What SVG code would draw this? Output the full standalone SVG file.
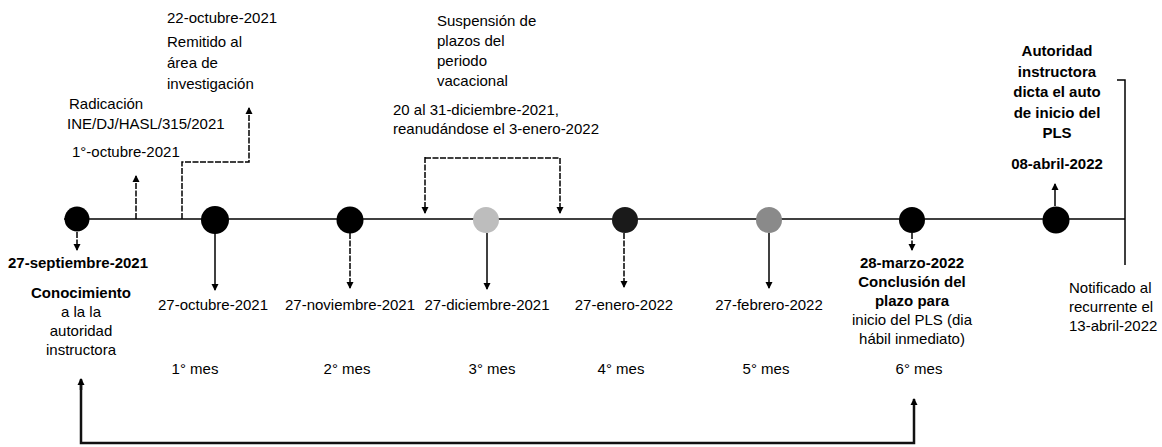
<svg xmlns="http://www.w3.org/2000/svg" width="1162" height="447" viewBox="0 0 1162 447">
<style>
text{font-family:"Liberation Sans",Arial,sans-serif;font-size:15px;fill:#000}
.b{font-weight:bold}
.c{text-anchor:middle}
.ln{stroke:#000;stroke-width:1.5;fill:none}
.ds{stroke-dasharray:6 1.5}
.th{stroke:#111;stroke-width:2.5;fill:none}
</style>
<defs>
<marker id="ah" markerWidth="8" markerHeight="8" refX="6" refY="4" orient="auto" markerUnits="userSpaceOnUse">
<path d="M0,0.5 L7,4 L0,7.5 Z" fill="#000"/>
</marker>
</defs>
<g id="connectors">
<line class="ln" x1="64" y1="219" x2="1125" y2="219"/>
<line class="ln ds" x1="77" y1="232" x2="77" y2="250" marker-end="url(#ah)"/>
<line class="ln" x1="215" y1="233" x2="215" y2="290" marker-end="url(#ah)"/>
<line class="ln ds" x1="350" y1="233" x2="350" y2="288" marker-end="url(#ah)"/>
<line class="ln" x1="487" y1="233" x2="487" y2="289" marker-end="url(#ah)"/>
<line class="ln ds" x1="624" y1="233" x2="624" y2="287" marker-end="url(#ah)"/>
<line class="ln" x1="769" y1="233" x2="769" y2="288" marker-end="url(#ah)"/>
<line class="ln ds" x1="912" y1="233" x2="912" y2="250" marker-end="url(#ah)"/>
<line class="ln ds" x1="136" y1="219" x2="136" y2="176" marker-end="url(#ah)"/>
<polyline class="ln ds" points="182,219 182,162 249,162 249,108" marker-end="url(#ah)"/>
<polyline class="ln ds" points="425,158 560,158 560,213" marker-end="url(#ah)"/>
<line class="ln ds" x1="425" y1="157" x2="425" y2="213" marker-end="url(#ah)"/>
<line class="ln" x1="1055" y1="206" x2="1055" y2="184" marker-end="url(#ah)"/>
<polyline class="ln" points="1117,80 1125,80 1125,265"/>
<polyline class="th" points="81,380 81,443 914,443 914,399" marker-end="url(#ah)"/>
<line class="th" x1="81" y1="390" x2="81" y2="379" marker-end="url(#ah)"/>
</g>
<g id="n1"><circle cx="77" cy="219" r="12.5" fill="#000"/>
<text class="b c" x="78" y="268">27-septiembre-2021</text>
<text class="c" x="81" y="298"><tspan class="b">Conocimiento</tspan><tspan x="81" dy="19">a la la</tspan><tspan x="81" dy="19">autoridad</tspan><tspan x="81" dy="19">instructora</tspan></text>
</g>
<g id="n2"><circle cx="215" cy="220" r="14" fill="#000"/>
<text class="c" x="213" y="310">27-octubre-2021</text>
<text class="c" x="195" y="374">1° mes</text>
</g>
<g id="n3"><circle cx="350" cy="220" r="13.5" fill="#000"/>
<text class="c" x="350" y="310">27-noviembre-2021</text>
<text class="c" x="347" y="374">2° mes</text>
</g>
<g id="n4"><circle cx="486" cy="220" r="13" fill="#bdbdbd"/>
<text class="c" x="487" y="310">27-diciembre-2021</text>
<text class="c" x="492" y="374">3° mes</text>
</g>
<g id="n5"><circle cx="625" cy="220" r="13" fill="#1a1a1a"/>
<text class="c" x="624" y="310">27-enero-2022</text>
<text class="c" x="621" y="374">4° mes</text>
</g>
<g id="n6"><circle cx="769" cy="220" r="13" fill="#8a8a8a"/>
<text class="c" x="769" y="310">27-febrero-2022</text>
<text class="c" x="766" y="374">5° mes</text>
</g>
<g id="n7"><circle cx="912" cy="220" r="13" fill="#000"/>
<text class="b c" x="912" y="268">28-marzo-2022</text>
<text class="b c" x="912" y="287">Conclusión del</text>
<text class="b c" x="912" y="306">plazo para</text>
<text class="c" x="912" y="325">inicio del PLS (dia</text>
<text class="c" x="912" y="344">hábil inmediato)</text>
<text class="c" x="919" y="374">6° mes</text>
</g>
<g id="n8"><circle cx="1056" cy="220" r="13.5" fill="#000"/>
<text class="b c" x="1057" y="56">Autoridad</text>
<text class="b c" x="1057" y="77">instructora</text>
<text class="b c" x="1057" y="97">dicta el auto</text>
<text class="b c" x="1057" y="118">de inicio del</text>
<text class="b c" x="1057" y="138">PLS</text>
<text class="b c" x="1057" y="169">08-abril-2022</text>
</g>
<g id="radicacion">
<text x="69" y="109">Radicación</text>
<text x="67" y="129">INE/DJ/HASL/315/2021</text>
<text x="72" y="157">1°-octubre-2021</text>
</g>
<g id="remitido">
<text x="167" y="23">22-octubre-2021</text>
<text x="167" y="47">Remitido al</text>
<text x="167" y="68">área de</text>
<text x="167" y="89">investigación</text>
</g>
<g id="suspension">
<text x="437" y="26">Suspensión de</text>
<text x="437" y="46">plazos del</text>
<text x="437" y="66">periodo</text>
<text x="437" y="86">vacacional</text>
<text x="393" y="115">20 al 31-diciembre-2021,</text>
<text x="393" y="134">reanudándose el 3-enero-2022</text>
</g>
<g id="notificado">
<text x="1069" y="293">Notificado al</text>
<text x="1069" y="312">recurrente el</text>
<text x="1069" y="331">13-abril-2022</text>
</g>
</svg>
